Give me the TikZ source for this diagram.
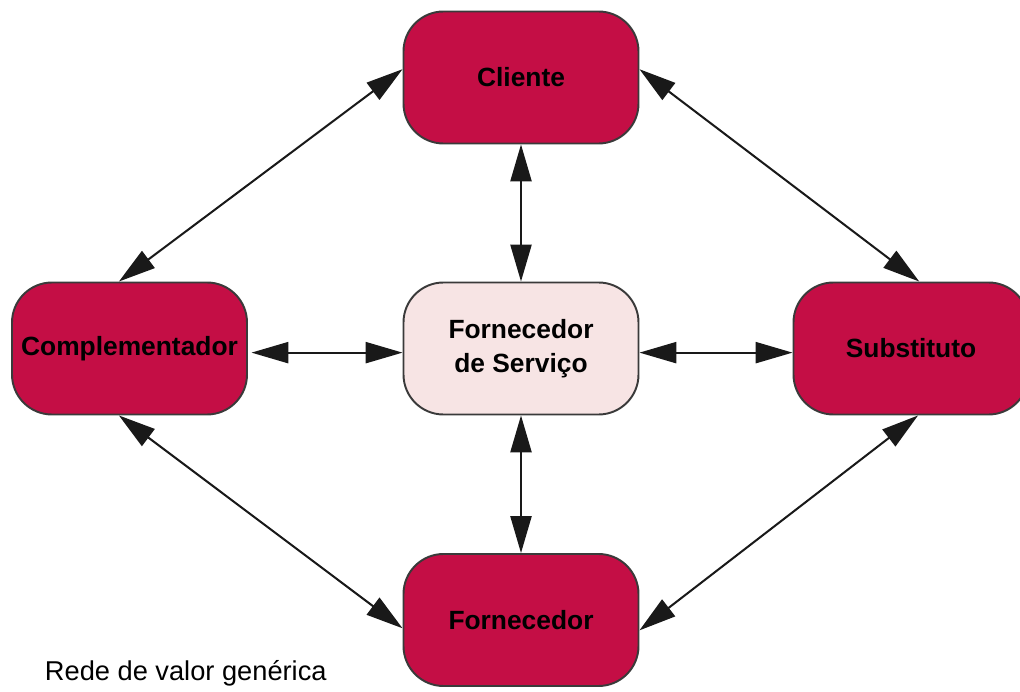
\documentclass[tikz,border=0pt]{standalone}
\usepackage{fontspec}
\setmainfont{Liberation Sans}
\usetikzlibrary{arrows.meta}

\definecolor{crimson}{HTML}{C40E45}
\definecolor{blush}{HTML}{F7E4E4}
\definecolor{rim}{HTML}{3A3A3A}

\begin{document}
\begin{tikzpicture}[line width=1.1pt,
    % --- 样式定义 ---
    % 参与者方框 (深红圆角)
    player/.style={rectangle, rounded corners=0.8cm, draw=rim, fill=crimson,
        minimum width=4.7cm, minimum height=2.64cm, inner sep=0pt, align=center,
        font=\fontsize{15}{19}\selectfont\bfseries},
    % 中心方框 (浅粉)
    focal/.style={player, fill=blush},
    % 双向箭头
    link/.style={{Triangle[length=21pt, width=12pt]}-{Triangle[length=21pt, width=12pt]},
        line width=1.15pt, black!90},
    % 图注文字样式
    caption/.style={anchor=west, inner sep=0pt, font=\fontsize{15.5}{18}\selectfont}
]
    \useasboundingbox (0,0) rectangle (20.4,13.82);

    % =========================================
    % 方框
    % =========================================
    \node[player] (cli) at (10.42, 12.27) {Cliente};
    \node[player] (comp) at (2.59, 6.85) {Complementador};
    \node[focal]  (srv) at (10.42, 6.85) {Fornecedor\\de Serviço};
    \node[player] (subs) at (18.22, 6.85) {Substituto};
    \node[player] (forn) at (10.42, 1.42) {Fornecedor};

    % =========================================
    % 箭头
    % =========================================
    % 对角线
    \draw[link] (comp.99)  -- (cli.176);
    \draw[link] (cli.4)    -- (subs.83);
    \draw[link] (comp.261) -- (forn.184);
    \draw[link] (subs.276) -- (forn.355);

    % 十字 (中心方框)
    \draw[link] (cli.south) -- (srv.north);
    \draw[link] (srv.south) -- (forn.north);
    \draw[link, shorten <=2pt] (comp.358) -- (srv.182);
    \draw[link] (srv.358) -- (subs.182);

    % 标签
    \node[caption] (cap) at (0.88, 0.36) {Rede de valor genérica};

\end{tikzpicture}
\end{document}
